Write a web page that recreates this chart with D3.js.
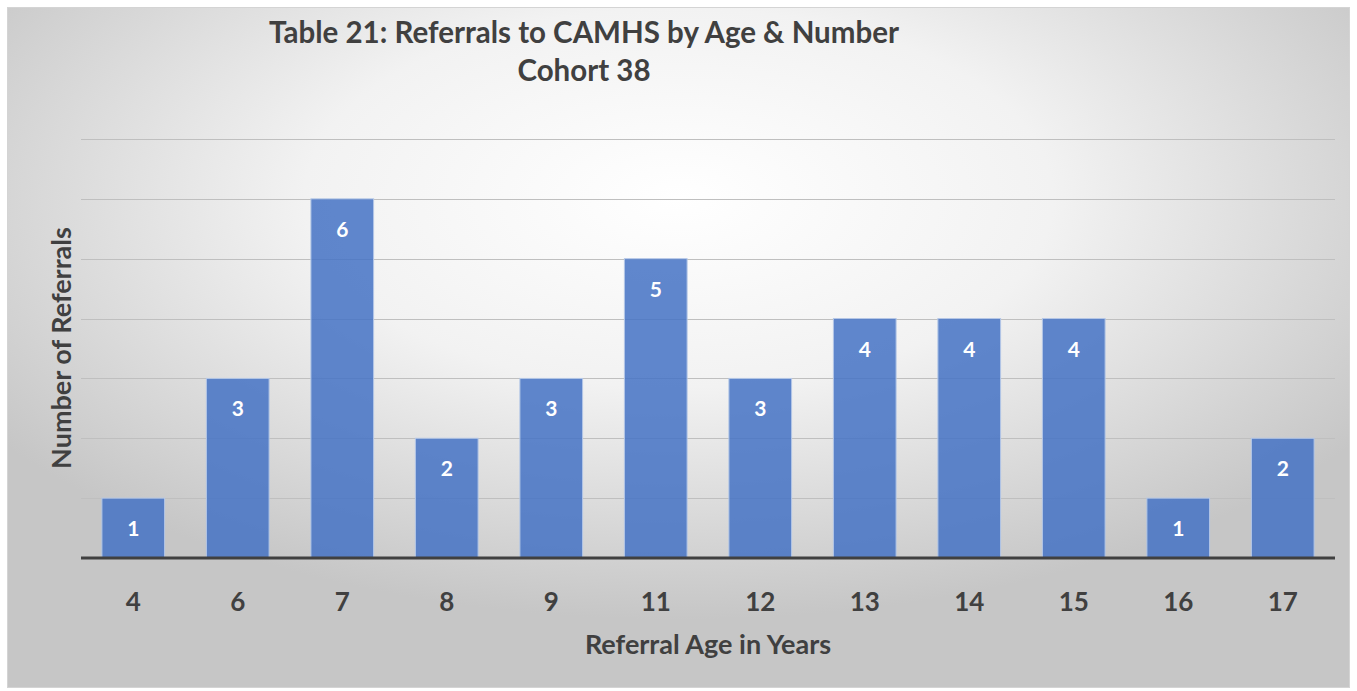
<!DOCTYPE html>
<html>
<head>
<meta charset="utf-8">
<script src="https://cdn.jsdelivr.net/npm/d3@7"></script>
<style>
  html, body { margin: 0; padding: 0; background: #fff; }
  svg { display: block; font-family: Lato, "Open Sans", sans-serif; }
</style>
</head>
<body>
<svg id="chart" width="1357" height="691"></svg>
<script>
// data
const ages = ["4", "6", "7", "8", "9", "11", "12", "13", "14", "15", "16", "17"];
const referrals = [1, 3, 6, 2, 3, 5, 3, 4, 4, 4, 1, 2];
const yGridValues = [1, 2, 3, 4, 5, 6, 7];
const titleLines = ["Table 21: Referrals to CAMHS by Age & Number", "Cohort 38"];

const W = 1357, H = 691;
const plot = { left: 81, right: 1335, top: 139, bottom: 558 };
const svg = d3.select("#chart");
const defs = svg.append("defs");

// background: radial gradient, white near top centre
const grad = defs.append("radialGradient")
  .attr("id", "bg")
  .attr("cx", "0.5").attr("cy", "0.28").attr("r", "0.62")
  .attr("fx", "0.5").attr("fy", "0.28");
grad.append("stop").attr("offset", "0%").attr("stop-color", "#ffffff");
grad.append("stop").attr("offset", "45%").attr("stop-color", "#f2f2f2");
grad.append("stop").attr("offset", "100%").attr("stop-color", "#c6c6c6");

svg.append("rect")
  .attr("x", 7.5).attr("y", 7.5).attr("width", 1342).attr("height", 680)
  .attr("fill", "url(#bg)")
  .attr("stroke", "#d4d4d4").attr("stroke-width", 1);

// scales
const x = d3.scaleBand().domain(ages).range([plot.left, plot.right]).paddingInner(0.4).paddingOuter(0.2);
const y = d3.scaleLinear().domain([0, 7]).range([plot.bottom, plot.top]);

// gridlines
svg.append("g").selectAll("line").data(yGridValues).join("line")
  .attr("x1", plot.left).attr("x2", plot.right)
  .attr("y1", d => Math.round(y(d)) + 0.5).attr("y2", d => Math.round(y(d)) + 0.5)
  .attr("stroke", "#bfbfbf").attr("stroke-width", 1);

// bars
svg.append("g").selectAll("rect").data(ages).join("rect")
  .attr("x", d => x(d))
  .attr("y", (d, i) => y(referrals[i]))
  .attr("width", x.bandwidth())
  .attr("height", (d, i) => y(0) - y(referrals[i]))
  .attr("fill", "#4472c4").attr("fill-opacity", 0.85)
  .attr("stroke", "#b4c7e7").attr("stroke-width", 1);

// value labels
svg.append("g").selectAll("text").data(ages).join("text")
  .attr("x", d => x(d) + x.bandwidth() / 2)
  .attr("y", (d, i) => y(referrals[i]) + 38)
  .attr("text-anchor", "middle")
  .attr("fill", "#ffffff").attr("font-weight", 700).attr("font-size", 21)
  .text((d, i) => referrals[i]);

// baseline / x axis
const xAxis = svg.append("g")
  .attr("transform", `translate(0,${plot.bottom})`)
  .call(d3.axisBottom(x).tickSize(0).tickPadding(35));
xAxis.select(".domain").attr("stroke", "#404040").attr("stroke-width", 3)
  .attr("d", `M${plot.left},0H${plot.right}`);
xAxis.selectAll("text")
  .attr("fill", "#404040").attr("font-size", 26).attr("font-weight", 700)
  .attr("font-family", "Lato, 'Open Sans', sans-serif");

// axis titles
svg.append("text")
  .attr("x", 708).attr("y", 654)
  .attr("text-anchor", "middle")
  .attr("fill", "#404040").attr("font-size", 27).attr("font-weight", 700)
  .text("Referral Age in Years");

svg.append("text")
  .attr("transform", "translate(71,348) rotate(-90)")
  .attr("text-anchor", "middle")
  .attr("fill", "#404040").attr("font-size", 27).attr("font-weight", 700)
  .text("Number of Referrals");

// title
svg.append("g").selectAll("text").data(titleLines).join("text")
  .attr("x", 584)
  .attr("y", (d, i) => 43 + i * 38)
  .attr("text-anchor", "middle")
  .attr("fill", "#404040").attr("font-size", 29.5).attr("font-weight", 700)
  .text(d => d);
</script>
</body>
</html>
